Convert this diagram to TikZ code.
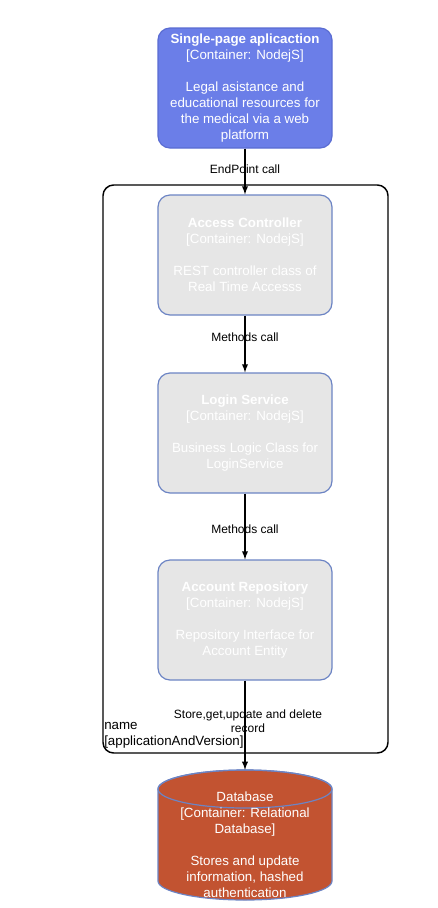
\documentclass[tikz,border=0pt]{standalone}
\usepackage{fontspec}
\setmainfont{Liberation Sans}
\usepackage{xcolor}
\definecolor{spablue}{HTML}{6B7EE8}
\definecolor{spaedge}{HTML}{5A6CD2}
\definecolor{compgrey}{HTML}{E6E6E6}
\definecolor{compedge}{HTML}{6C84C4}
\definecolor{dbred}{HTML}{C25331}
\tikzset{c4box/.style={rectangle,rounded corners=9pt,line width=0.9pt,
    minimum width=130.5pt,minimum height=90pt,align=center,text=white,
    font=\fontsize{10}{12}\selectfont}}
\tikzset{spabox/.style={c4box,fill=spablue,draw=spaedge}}
\tikzset{compbox/.style={c4box,fill=compgrey,draw=compedge}}
\tikzset{callline/.style={-latex,line width=1.1pt}}
\tikzset{calllabel/.style={font=\fontsize{9}{10.5}\selectfont,align=center}}
\usetikzlibrary{calc}

\begin{document}
\begin{tikzpicture}[x=0.75pt,y=-0.75pt]
  \useasboundingbox (0,0) rectangle (438,908);

  % system boundary
  \draw[line width=1.1pt,rounded corners=8pt] (103,185) rectangle (388,753);
  \node [anchor=north west,align=left,inner sep=0pt,
         font=\fontsize{10}{12}\selectfont] (bname) at (104,722)
        {name\\{}[applicationAndVersion]};

  \node [spabox] (spa) at (245,88)
        {\textbf{Single-page aplicaction}\\{}[Container: NodejS]\\[12pt]
         Legal asistance and\\educational resources for\\the medical via a web\\platform};
  \node [compbox] (ac) at (245,255)
        {\textbf{Access Controller}\\{}[Container: NodejS]\\[12pt]
         REST controller class of\\Real Time Accesss};
  \node [compbox] (ls) at (245,433)
        {\textbf{Login Service}\\{}[Container: NodejS]\\[12pt]
         Business Logic Class for\\LoginService};
  \node [compbox] (ar) at (245,620)
        {\textbf{Account Repository}\\{}[Container: NodejS]\\[12pt]
         Repository Interface for\\Account Entity};

  % database cylinder
  \node [minimum width=130.5pt,minimum height=97.5pt,inner sep=0pt] (db) at (245,835) {};
  \coordinate (dbtop) at (245,789);
  \coordinate (dbbot) at (245,881);
  \filldraw[fill=dbred,draw=compedge,line width=0.9pt]
    ($(dbtop)+(-87,0)$) -- ($(dbbot)+(-87,0)$)
    arc[start angle=180,end angle=360,x radius=87,y radius=-19]
    -- ($(dbtop)+(87,0)$)
    arc[start angle=0,end angle=180,x radius=87,y radius=-19] -- cycle;
  \draw[draw=compedge,line width=0.9pt] (dbtop) ellipse [x radius=87,y radius=19];
  \node [align=center,text=white,font=\fontsize{10}{12}\selectfont] (dbtext) at (245,845)
        {Database\\{}[Container: Relational\\Database]\\[12pt]
         Stores and update\\information, hashed\\authentication};

  \draw [callline] (spa) -- (ac);
  \draw [callline] (ac) -- (ls);
  \draw [callline] (ls) -- (ar);
  \draw [callline] (ar) -- (db.north);

  \node [calllabel] (l1) at (245,169) {EndPoint call};
  \node [calllabel] (l2) at (245,337) {Methods call};
  \node [calllabel] (l3) at (245,529) {Methods call};
  \node [calllabel] (l4) at (248,721) {Store,get,update and delete\\record};
\end{tikzpicture}
\end{document}
